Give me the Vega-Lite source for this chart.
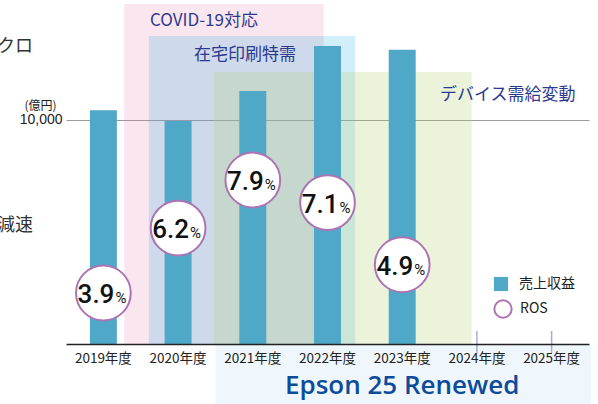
{
  "$schema": "https://vega.github.io/schema/vega-lite/v6.json",
  "width": 523,
  "height": 344,
  "autosize": {"type": "none"},
  "padding": {"left": 66, "top": 0, "right": 9, "bottom": 60},
  "background": "white",
  "config": {"view": {"stroke": null}},
  "datasets": {
    "fy": [
      {"year": "2019年度", "revenue": 10436, "ros": 3.9},
      {"year": "2020年度", "revenue": 9959, "ros": 6.2},
      {"year": "2021年度", "revenue": 11289, "ros": 7.9},
      {"year": "2022年度", "revenue": 13303, "ros": 7.1},
      {"year": "2023年度", "revenue": 13139, "ros": 4.9}
    ],
    "future": [{"year": "2024年度"}, {"year": "2025年度"}],
    "regions": [
      {"name": "COVID-19対応", "start": 0.78, "end": 3.45, "top": 15180, "bottom": 0},
      {"name": "在宅印刷特需", "start": 1.11, "end": 3.87, "top": 13750, "bottom": 0},
      {"name": "デバイス需給変動", "start": 1.98, "end": 5.43, "top": 12140, "bottom": 0},
      {"name": "Epson 25 Renewed", "start": 2.0, "end": 7.03, "top": -40, "bottom": -2700}
    ],
    "regionLabels": [
      {"text": "COVID-19対応", "x": 1.124, "y": 14420},
      {"text": "在宅印刷特需", "x": 1.713, "y": 12900},
      {"text": "デバイス需給変動", "x": 5.006, "y": 11116}
    ],
    "sideText": [
      {"text": "マクロ", "x": -0.442, "y": 13259},
      {"text": "経済減速", "x": -0.442, "y": 5268}
    ],
    "plan": [{"text": "Epson 25 Renewed", "x": 4.5, "y": -2232}]
  },
  "layer": [
    {
      "data": {"name": "regions"},
      "mark": {"type": "rect"},
      "encoding": {
        "x": {"field": "start", "type": "quantitative", "scale": {"domain": [0, 7], "nice": false, "zero": false}, "axis": null},
        "x2": {"field": "end"},
        "y": {"field": "top", "type": "quantitative", "scale": {"domain": [0, 15357], "nice": false, "zero": false}, "axis": null},
        "y2": {"field": "bottom"},
        "fill": {"field": "name", "type": "nominal", "scale": {"domain": ["COVID-19対応", "在宅印刷特需", "デバイス需給変動", "Epson 25 Renewed"], "range": ["#e682af", "#3ab4e6", "#b2d070", "#c9e1f5"]}, "legend": null},
        "opacity": {"field": "name", "type": "ordinal", "scale": {"domain": ["COVID-19対応", "在宅印刷特需", "デバイス需給変動", "Epson 25 Renewed"], "range": [0.2, 0.28, 0.3, 1]}, "legend": null}
      }
    },
    {
      "data": {"name": "fy"},
      "mark": {"type": "bar"},
      "encoding": {
        "x": {
          "field": "year", "type": "ordinal",
          "scale": {"domain": ["2019年度", "2020年度", "2021年度", "2022年度", "2023年度", "2024年度", "2025年度"], "paddingInner": 0.639, "paddingOuter": 0.32},
          "axis": {"title": null, "labelAngle": 0, "labelFont": "Noto Sans CJK JP", "labelFontSize": 13.5, "labelColor": "#222222", "ticks": false, "domainColor": "#222222", "domainWidth": 1.5, "labelPadding": 7, "zindex": 1}
        },
        "y": {
          "field": "revenue", "type": "quantitative",
          "scale": {"domain": [0, 15357], "nice": false, "zero": false},
          "axis": {"values": [10000], "labelExpr": "format(datum.value, ',.0f')", "grid": true, "gridColor": "#9a9a9a", "gridWidth": 1, "domain": false, "ticks": false, "labelPadding": 4, "labelFont": "Liberation Sans", "labelFontSize": 14, "labelColor": "#222222", "title": "(億円)", "titleAngle": 0, "titleX": -26, "titleY": 105, "titleAlign": "center", "titleBaseline": "middle", "titleFont": "Noto Sans CJK JP", "titleFontSize": 12, "titleFontWeight": "normal", "titleColor": "#222222"}
        },
        "color": {
          "datum": "売上収益", "type": "nominal",
          "scale": {"domain": ["売上収益"], "range": ["#4fa8c8"]},
          "legend": {
            "orient": "none", "legendX": 427, "legendY": 276, "title": null, "padding": 0,
            "symbolType": "square", "symbolSize": 200, "labelFont": "Noto Sans CJK JP", "labelFontSize": 14, "labelColor": "#222222", "labelOffset": 10
          }
        }
      }
    },
    {
      "data": {"name": "future"},
      "mark": {"type": "rule", "color": "#a4acd8", "strokeWidth": 1.5},
      "encoding": {
        "x": {"field": "year", "type": "ordinal", "scale": {"type": "band", "domain": ["2019年度", "2020年度", "2021年度", "2022年度", "2023年度", "2024年度", "2025年度"], "paddingInner": 0.639, "paddingOuter": 0.32}, "axis": null},
        "y": {"datum": 580, "type": "quantitative", "scale": {"domain": [0, 15357], "nice": false, "zero": false}, "axis": null},
        "y2": {"datum": -400}
      }
    },
    {
      "data": {"name": "fy"},
      "mark": {"type": "point", "shape": "circle", "filled": false, "fill": "#ffffff", "fillOpacity": 1, "opacity": 1, "strokeWidth": 2, "size": 3000},
      "encoding": {
        "x": {"field": "year", "type": "ordinal", "scale": {"type": "band", "domain": ["2019年度", "2020年度", "2021年度", "2022年度", "2023年度", "2024年度", "2025年度"], "paddingInner": 0.639, "paddingOuter": 0.32}, "axis": null},
        "y": {"field": "ros", "type": "quantitative", "scale": {"domain": [2.095, 14.272], "nice": false, "zero": false}, "axis": null},
        "stroke": {
          "datum": "ROS", "type": "nominal",
          "scale": {"domain": ["ROS"], "range": ["#ac74b3"]},
          "legend": {
            "orient": "none", "legendX": 427, "legendY": 299, "title": null, "padding": 0,
            "symbolType": "circle", "symbolSize": 300, "symbolFillColor": "#ffffff", "symbolStrokeWidth": 2, "symbolOpacity": 1,
            "labelFont": "Noto Sans CJK JP", "labelFontSize": 14, "labelColor": "#222222", "labelOffset": 7,
            "encode": {"symbols": {"update": {"fill": {"value": "#ffffff"}, "fillOpacity": {"value": 1}, "opacity": {"value": 1}}}}
          }
        }
      }
    },
    {
      "data": {"name": "fy"},
      "mark": {"type": "text", "font": "Roboto", "fontWeight": 500, "fontSize": 26, "align": "right", "baseline": "alphabetic", "dx": 11, "dy": 10, "color": "#111111"},
      "encoding": {
        "x": {"field": "year", "type": "ordinal", "scale": {"type": "band", "domain": ["2019年度", "2020年度", "2021年度", "2022年度", "2023年度", "2024年度", "2025年度"], "paddingInner": 0.639, "paddingOuter": 0.32}, "axis": null},
        "y": {"field": "ros", "type": "quantitative", "scale": {"domain": [2.095, 14.272], "nice": false, "zero": false}, "axis": null},
        "text": {"field": "ros", "type": "quantitative", "format": ".1f"}
      }
    },
    {
      "data": {"name": "fy"},
      "mark": {"type": "text", "font": "Roboto", "fontSize": 15, "align": "left", "baseline": "alphabetic", "dx": 12, "dy": 10, "color": "#111111"},
      "encoding": {
        "x": {"field": "year", "type": "ordinal", "scale": {"type": "band", "domain": ["2019年度", "2020年度", "2021年度", "2022年度", "2023年度", "2024年度", "2025年度"], "paddingInner": 0.639, "paddingOuter": 0.32}, "axis": null},
        "y": {"field": "ros", "type": "quantitative", "scale": {"domain": [2.095, 14.272], "nice": false, "zero": false}, "axis": null},
        "text": {"value": "%"}
      }
    },
    {
      "data": {"name": "regionLabels"},
      "mark": {"type": "text", "font": "Noto Sans CJK JP", "fontSize": 17, "align": "left", "baseline": "middle", "color": "#2b3a8f"},
      "encoding": {
        "x": {"field": "x", "type": "quantitative", "scale": {"domain": [0, 7], "nice": false, "zero": false}, "axis": null},
        "y": {"field": "y", "type": "quantitative", "scale": {"domain": [0, 15357], "nice": false, "zero": false}, "axis": null},
        "text": {"field": "text"}
      }
    },
    {
      "data": {"name": "sideText"},
      "mark": {"type": "text", "font": "Noto Sans CJK JP", "fontSize": 18, "align": "right", "baseline": "middle", "color": "#333333"},
      "encoding": {
        "x": {"field": "x", "type": "quantitative", "scale": {"domain": [0, 7], "nice": false, "zero": false}, "axis": null},
        "y": {"field": "y", "type": "quantitative", "scale": {"domain": [0, 15357], "nice": false, "zero": false}, "axis": null},
        "text": {"field": "text"}
      }
    },
    {
      "data": {"name": "plan"},
      "mark": {"type": "text", "font": "Open Sans", "fontWeight": 600, "fontSize": 26, "align": "center", "baseline": "alphabetic", "color": "#0d4c9b"},
      "encoding": {
        "x": {"field": "x", "type": "quantitative", "scale": {"domain": [0, 7], "nice": false, "zero": false}, "axis": null},
        "y": {"field": "y", "type": "quantitative", "scale": {"domain": [0, 15357], "nice": false, "zero": false}, "axis": null},
        "text": {"field": "text"}
      }
    }
  ],
  "resolve": {"scale": {"x": "independent", "y": "independent"}}
}
